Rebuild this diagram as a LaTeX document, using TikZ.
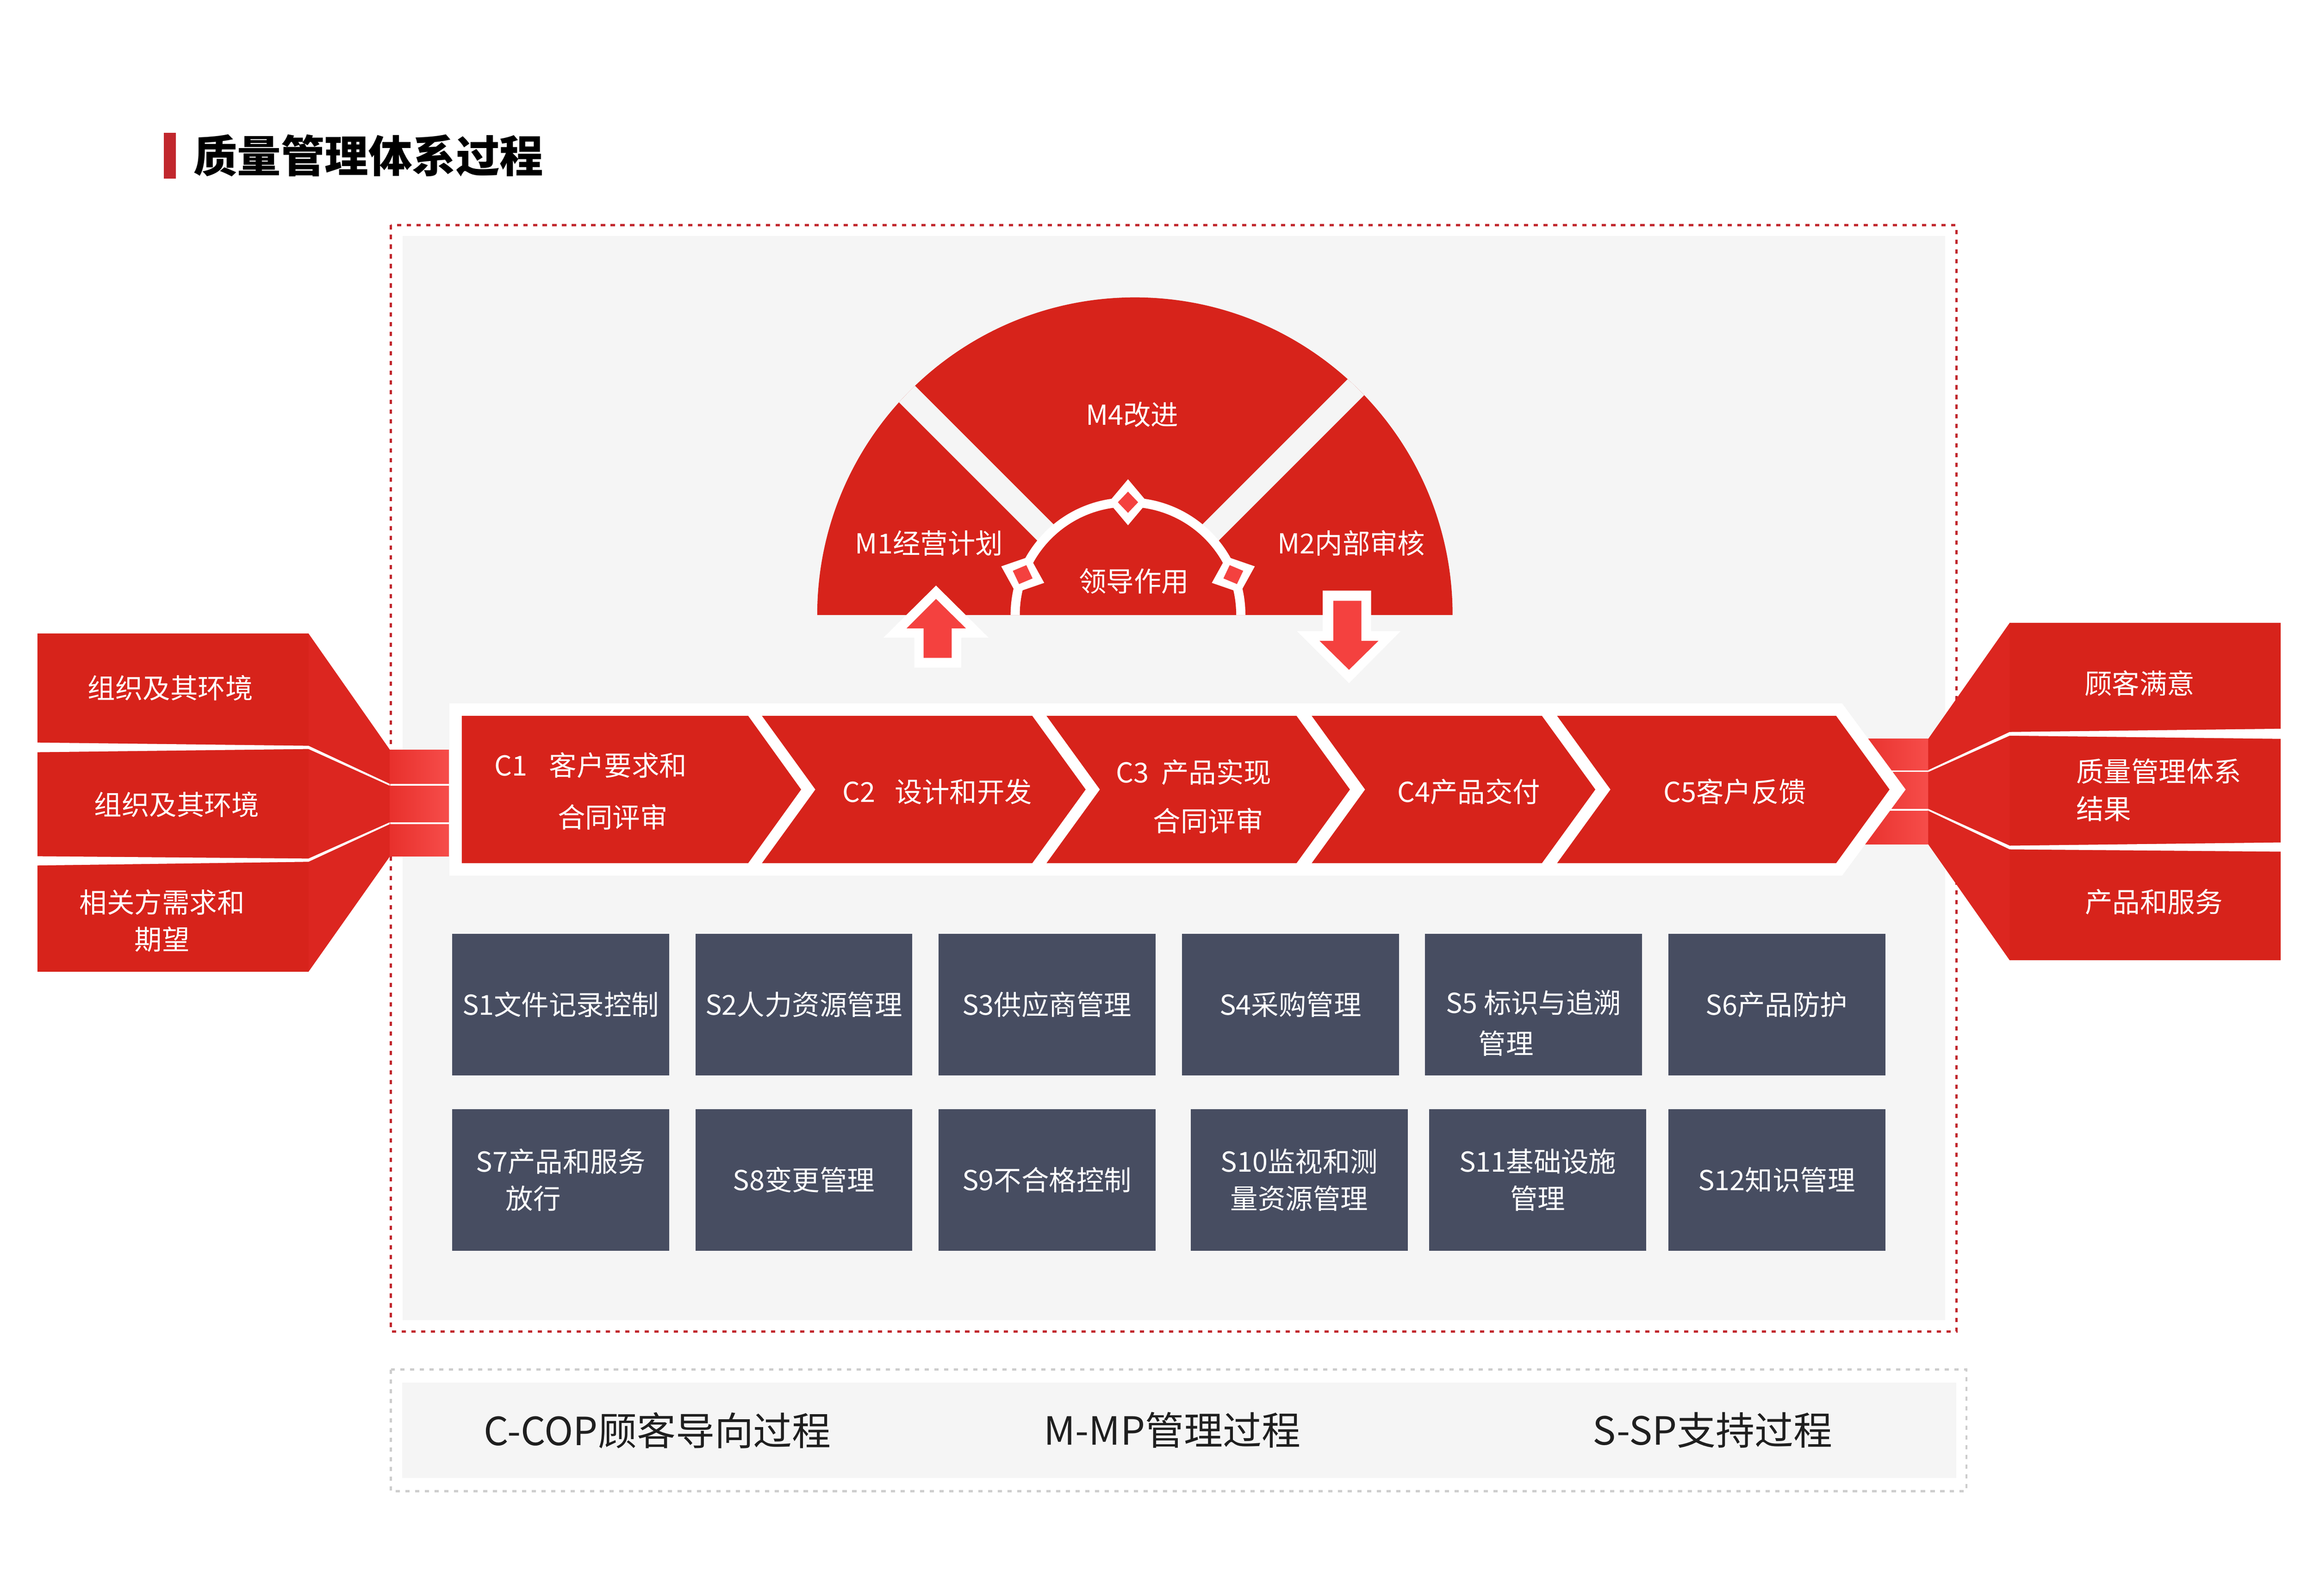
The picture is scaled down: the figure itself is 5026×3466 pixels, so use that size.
\documentclass[tikz,border=0pt]{standalone}
\usepackage{fontspec}
\setmainfont{Noto Sans CJK SC}
\usetikzlibrary{calc}
\definecolor{qred}{HTML}{D7231B}
\definecolor{qfun}{HTML}{DC2620}
\definecolor{qlight}{HTML}{F4413F}
\definecolor{qbarl}{HTML}{E8302C}
\definecolor{qbarr}{HTML}{F64D4A}
\definecolor{qdeep}{HTML}{C1272D}
\definecolor{qslate}{HTML}{474D61}
\definecolor{qpanel}{HTML}{F5F5F5}
\definecolor{qgray}{HTML}{CDCDCD}
\tikzset{t/.style={font=\fontsize{17}{23}\selectfont, text=white, align=center, inner sep=0pt}}
\tikzset{sb/.style={fill=qslate, minimum width=4.71cm, minimum height=3.07cm, inner sep=0pt}}
\tikzset{lg/.style={font=\fontsize{24}{24}\selectfont, text=black!88, inner sep=0pt}}
\tikzset{dsh/.style={line width=1.4pt, dash pattern=on 2.6pt off 3.4pt}}

\begin{document}
\begin{tikzpicture}[x=0.01cm, y=-0.01cm]
    \useasboundingbox (0,0) rectangle (5026,3466);
    \fill[white] (0,0) rectangle (5026,3466);
    \fill[qdeep] (356,288) rectangle (382,388);
    \node[font=\fontsize{27}{27}\selectfont\bfseries, anchor=west, inner sep=0pt] (title) at (420,338) {质量管理体系过程};

    \fill[qpanel] (875,513) rectangle (4225,2868);
    \draw[qdeep, dsh] (849,489) rectangle (4249,2892);

    \coordinate (O) at (2450,1336);
    \fill[qred] (1775,1336) arc[start angle=180, end angle=360, radius=690] -- cycle;
    \begin{scope}
      \clip (1775,1336) arc[start angle=180, end angle=360, radius=690] -- cycle;
      \draw[qpanel, line width=0.5cm] (O) -- ++(-800,-800) (O) -- ++(800,-800);
    \end{scope}
    \fill[white] (2195,1336) arc[start angle=180, end angle=360, radius=255] -- cycle;
    \fill[qred] (2215,1336) arc[start angle=180, end angle=360, radius=235] -- cycle;
    \begin{scope}[shift={(O)}, rotate=90]
      \fill[white] (195,0) -- (245,42) -- (295,0) -- (245,-42) -- cycle;
      \fill[qlight] (222,0) -- (245,22) -- (268,0) -- (245,-22) -- cycle;
    \end{scope}
    \begin{scope}[shift={(O)}, rotate=159]
      \fill[white] (195,0) -- (245,42) -- (295,0) -- (245,-42) -- cycle;
      \fill[qlight] (222,0) -- (245,22) -- (268,0) -- (245,-22) -- cycle;
    \end{scope}
    \begin{scope}[shift={(O)}, rotate=21]
      \fill[white] (195,0) -- (245,42) -- (295,0) -- (245,-42) -- cycle;
      \fill[qlight] (222,0) -- (245,22) -- (268,0) -- (245,-22) -- cycle;
    \end{scope}
    \node[t] (m4) at (2459,901) {M4改进};
    \node[t] (m1) at (2018,1180) {M1经营计划};
    \node[t] (m2) at (2935,1180) {M2内部审核};
    \node[t] (ld) at (2463,1263) {领导作用};

    \fill[white] (2033,1272) -- (2147,1385) -- (2088,1385) -- (2088,1450) -- (1986,1450) -- (1986,1385) -- (1919,1385) -- cycle;
    \fill[qlight] (2033,1301) -- (2098,1365) -- (2067,1365) -- (2067,1429) -- (2006,1429) -- (2006,1365) -- (1969,1365) -- cycle;
    \fill[white] (2873,1283) -- (2978,1283) -- (2978,1371) -- (3042,1371) -- (2930,1484) -- (2817,1371) -- (2873,1371) -- cycle;
    \fill[qlight] (2896,1305) -- (2957,1305) -- (2957,1392) -- (2994,1392) -- (2930,1455) -- (2866,1392) -- (2896,1392) -- cycle;

    \fill[qred] (81,1376) rectangle (670,2111);
    \fill[qfun] (670,1376) -- (847,1629) -- (847,1860) -- (670,2111) -- cycle;
    \fill[white] (81,1613) -- (670,1620) -- (847,1703) -- (847,1707) -- (670,1627) -- (81,1634) -- cycle;
    \fill[white] (81,1860) -- (670,1865) -- (847,1786) -- (847,1790) -- (670,1872) -- (81,1880) -- cycle;
    \shade[left color=qbarl, right color=qbarr] (847,1629) rectangle (975,1860);
    \draw[white, line width=1pt] (847,1705) -- (975,1705) (847,1788) -- (975,1788);
    \node[t] (e1) at (370,1495) {组织及其环境};
    \node[t] (e2) at (384,1748) {组织及其环境};
    \node[t] (e3) at (352,2000) {相关方需求和\\期望};

    \shade[left color=qbarl, right color=qbarr] (4040,1605) rectangle (4188,1834);
    \draw[white, line width=1pt] (4100,1675) -- (4188,1675) (4100,1759) -- (4188,1759);
    \fill[qred] (4365,1353) rectangle (4954,2086);
    \fill[qfun] (4188,1605) -- (4365,1353) -- (4365,2086) -- (4188,1834) -- cycle;
    \fill[white] (4188,1673) -- (4365,1590) -- (4954,1583) -- (4954,1605) -- (4365,1598) -- (4188,1677) -- cycle;
    \fill[white] (4188,1757) -- (4365,1837) -- (4954,1830) -- (4954,1850) -- (4365,1845) -- (4188,1761) -- cycle;
    \node[t] (o1) at (4647,1484) {顾客满意};
    \node[t, align=left, anchor=west] (o2) at (4509,1716) {质量管理体系\\结果};
    \node[t] (o3) at (4678,1959) {产品和服务};

    \fill[white] (976,1528) -- (4001,1528) -- (4139,1715) -- (4001,1902) -- (976,1902) -- cycle;
    \fill[qred] (1003,1555) -- (1625,1555) -- (1740,1715) -- (1625,1875) -- (1003,1875) -- cycle;
    \fill[qred] (1655,1555) -- (2242,1555) -- (2358,1715) -- (2242,1875) -- (1655,1875) -- (1771,1715) -- cycle;
    \fill[qred] (2273,1555) -- (2816,1555) -- (2932,1715) -- (2816,1875) -- (2273,1875) -- (2389,1715) -- cycle;
    \fill[qred] (2849,1555) -- (3349,1555) -- (3465,1715) -- (3349,1875) -- (2849,1875) -- (2965,1715) -- cycle;
    \fill[qred] (3382,1555) -- (3988,1555) -- (4104,1715) -- (3988,1875) -- (3382,1875) -- (3498,1715) -- cycle;
    \node[t, font=\fontsize{17}{32}\selectfont] (c1) at (1283,1719) {C1\hspace{0.8em}客户要求和\\\hspace*{1.6em}合同评审};
    \node[t] (c2) at (2036,1720) {C2\hspace{0.7em}设计和开发};
    \node[t, font=\fontsize{17}{30}\selectfont] (c3) at (2593,1730) {C3\hspace{0.45em}产品实现\\\hspace*{1.05em}合同评审};
    \node[t] (c4) at (3190,1720) {C4产品交付};
    \node[t] (c5) at (3768,1720) {C5客户反馈};

    \node[sb, t] (s1) at (1218,2182) {S1文件记录控制};
    \node[sb, t] (s2) at (1746,2182) {S2人力资源管理};
    \node[sb, t] (s3) at (2274,2182) {S3供应商管理};
    \node[sb, t] (s4) at (2803,2182) {S4采购管理};
    \node[sb] (s5) at (3331,2182) {};
    \node[t, font=\fontsize{17}{25}\selectfont] (s5t) at (3331,2222) {S5 标识与追溯\\管理\hspace*{2em}};
    \node[sb, t] (s6) at (3859,2182) {S6产品防护};
    \node[sb, t] (s7) at (1218,2563) {S7产品和服务\\放行\hspace*{2em}};
    \node[sb, t] (s8) at (1746,2563) {S8变更管理};
    \node[sb, t] (s9) at (2274,2563) {S9不合格控制};
    \node[sb, t] (s10) at (2822,2563) {S10监视和测\\量资源管理};
    \node[sb, t] (s11) at (3340,2563) {S11基础设施\\管理};
    \node[sb, t] (s12) at (3859,2563) {S12知识管理};

    \fill[qpanel] (874,3003) rectangle (4249,3211);
    \draw[qgray, dsh] (849,2975) rectangle (4271,3239);
    \node[lg] (k1) at (1428,3107) {C-COP顾客导向过程};
    \node[lg] (k2) at (2546,3107) {M-MP管理过程};
    \node[lg] (k3) at (3720,3107) {S-SP支持过程};
  \end{tikzpicture}
\end{document}
